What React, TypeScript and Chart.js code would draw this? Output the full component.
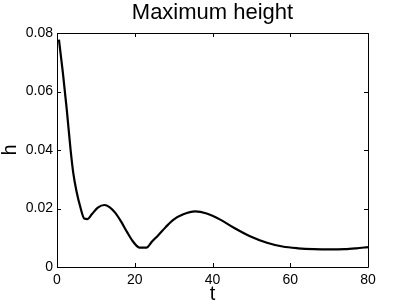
import React, { useEffect, useRef } from "react";
import { Chart, registerables } from "chart.js";

Chart.register(...registerables);

const tValues = [0.5, 1.5, 2.5, 3.5, 4.2, 5, 6, 7, 7.8, 9, 10.5, 12.2, 13.5, 15, 16.5, 18, 19.5, 21.3, 23, 24.5, 26, 28, 30, 32.5, 35.5, 38.5, 42, 45.5, 49.5, 54, 58, 62, 66, 70, 74, 77, 80];
const hValues = [0.0777, 0.0665, 0.054, 0.040, 0.032, 0.026, 0.0205, 0.0166, 0.0164, 0.0181, 0.0203, 0.0212, 0.0205, 0.0185, 0.0155, 0.012, 0.0088, 0.0066, 0.0066, 0.0088, 0.0108, 0.0137, 0.0162, 0.018, 0.019, 0.0183, 0.0162, 0.0134, 0.0106, 0.0083, 0.007, 0.0064, 0.0061, 0.006, 0.0061, 0.0064, 0.0068];
const xTicks = [0, 20, 40, 60, 80];
const yTicks = [0, 0.02, 0.04, 0.06, 0.08];
const yTickLabels = ["0", "0.02", "0.04", "0.06", "0.08"];

const boxPlugin = {
  id: "boxTicks",
  afterDatasetsDraw(chart: any) {
    const { ctx, chartArea, scales } = chart;
    const { left, right, top, bottom } = chartArea;
    ctx.save();
    ctx.strokeStyle = "#000";
    ctx.lineWidth = 1;
    ctx.beginPath();
    ctx.rect(Math.round(left) + 0.5, Math.round(top) + 0.5, Math.round(right - left), Math.round(bottom - top));
    ctx.stroke();
    const len = 4;
    ctx.beginPath();
    for (const v of xTicks) {
      const x = Math.round(scales.x.getPixelForValue(v)) + 0.5;
      ctx.moveTo(x, bottom);
      ctx.lineTo(x, bottom - len);
      ctx.moveTo(x, top);
      ctx.lineTo(x, top + len);
    }
    for (const v of yTicks) {
      const y = Math.round(scales.y.getPixelForValue(v)) + 0.5;
      ctx.moveTo(left, y);
      ctx.lineTo(left + len, y);
      ctx.moveTo(right, y);
      ctx.lineTo(right - len, y);
    }
    ctx.stroke();
    ctx.restore();
  },
};

export default function App() {
  const ref = useRef<HTMLCanvasElement>(null);
  useEffect(() => {
    document.body.style.margin = "0";
    const font = "'Liberation Sans', Arial, Helvetica, sans-serif";
    const chart = new Chart(ref.current!, {
      type: "line",
      data: {
        datasets: [
          {
            data: tValues.map((t, i) => ({ x: t, y: hValues[i] })),
            borderColor: "#000",
            borderWidth: 2.2,
            pointRadius: 0,
            cubicInterpolationMode: "monotone",
            fill: false,
          },
        ],
      },
      options: {
        animation: false,
        responsive: false,
        maintainAspectRatio: false,
        layout: { padding: { top: 0, right: 39, bottom: 0, left: 0 } },
        plugins: {
          legend: { display: false },
          tooltip: { enabled: false },
          title: {
            display: true,
            fullSize: false,
            text: "Maximum height",
            color: "#000",
            font: { family: font, size: 22, weight: "normal" },
            padding: { top: 0, bottom: 6.6 },
          },
        },
        scales: {
          x: {
            type: "linear",
            min: 0,
            max: 80,
            grid: { display: false, drawTicks: false },
            border: { display: false },
            afterBuildTicks: (s: any) => {
              s.ticks = xTicks.map((v) => ({ value: v }));
            },
            afterFit: (s: any) => {
              s.height = 39;
            },
            ticks: {
              color: "#000",
              padding: 5,
              maxRotation: 0,
              font: { family: font, size: 14 },
              callback: (v: any) => String(v),
            },
            title: {
              display: true,
              text: "t",
              color: "#000",
              padding: 0,
              font: { family: font, size: 20 },
            },
          },
          y: {
            type: "linear",
            min: 0,
            max: 0.08,
            grid: { display: false, drawTicks: false },
            border: { display: false },
            afterBuildTicks: (s: any) => {
              s.ticks = yTicks.map((v) => ({ value: v }));
            },
            afterFit: (s: any) => {
              s.width = 57;
            },
            ticks: {
              color: "#000",
              padding: 4,
              font: { family: font, size: 14 },
              callback: (v: any) => {
                const i = yTicks.findIndex((t) => Math.abs(t - v) < 1e-9);
                return i >= 0 ? yTickLabels[i] : "";
              },
            },
            title: {
              display: true,
              text: "h",
              color: "#000",
              padding: { top: -2, bottom: 0 },
              font: { family: font, size: 20 },
            },
          },
        },
      },
      plugins: [boxPlugin],
    });
    return () => chart.destroy();
  }, []);
  return (
    <div style={{ width: 407, height: 306, background: "#fff" }}>
      <canvas ref={ref} width={407} height={306} style={{ display: "block" }} />
    </div>
  );
}
